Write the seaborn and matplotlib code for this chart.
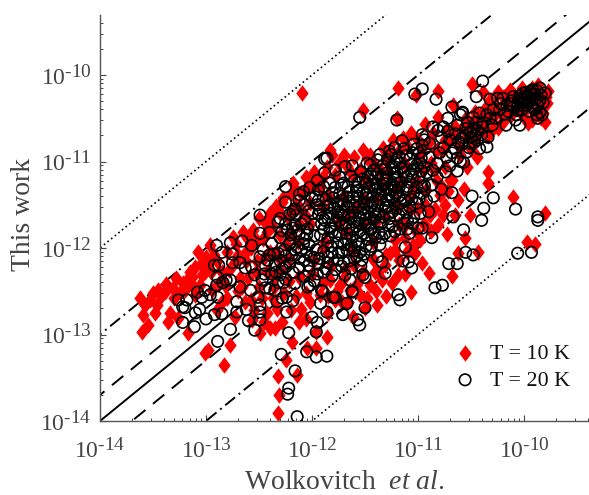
import numpy as np
import pandas as pd
import matplotlib
matplotlib.use("Agg")
import matplotlib.pyplot as plt
import matplotlib._mathtext as _mt
from matplotlib.path import Path
from matplotlib.ticker import LogLocator, NullFormatter
import seaborn as sns

_mt.SHRINK_FACTOR = 0.82

# log10 of (Wolkovitch et al., This work)
t10_left = [(-13.60,-12.97),(-13.55,-12.89),(-13.59,-12.77),(-13.62,-12.58),(-13.53,-12.60),(-13.46,-12.66),(-13.45,-12.49),
 (-13.39,-12.51),(-13.34,-12.75),(-13.36,-12.86),(-13.31,-12.46),(-13.22,-12.40),(-13.10,-12.22),(-13.08,-12.05),(-13.18,-12.37),
 (-13.13,-12.34),(-13.26,-12.81),(-13.17,-12.98),(-12.98,-13.18),(-13.01,-13.21),(-12.77,-13.12),(-12.83,-13.35),(-12.96,-11.97),
 (-12.98,-12.17),(-13.01,-12.28),(-13.04,-12.31),(-12.75,-11.87),(-12.65,-11.81),(-12.80,-12.58),(-12.73,-12.80),(-12.66,-12.45),
 (-12.58,-12.60),(-12.49,-12.98),(-12.40,-12.92),(-12.42,-12.75),(-12.56,-11.79),(-12.92,-12.08),(-12.85,-12.28),(-12.94,-12.49),
 (-12.73,-12.16),(-12.58,-12.00),(-12.68,-12.35),(-12.53,-12.28),(-12.45,-12.12),(-12.47,-12.58),(-12.57,-12.83),(-12.82,-12.43),
 (-13.10,-12.54),(-13.06,-12.43),(-12.33,-12.70),(-12.36,-12.45),(-12.30,-12.25)]
t10_low = [(-12.32,-13.91),(-12.31,-13.70),(-12.32,-13.48),(-12.14,-13.47),(-12.25,-13.29),(-12.19,-13.09),(-11.96,-13.16),
 (-12.05,-13.16),(-11.86,-13.03),(-11.96,-12.97),(-12.06,-12.82),(-11.39,-12.66),(-11.50,-12.69),(-11.61,-12.80),(-11.85,-12.75),
 (-11.34,-12.37),(-11.41,-12.28),(-10.96,-12.17),(-10.73,-11.84),(-10.56,-11.88),(-10.81,-11.73),(-11.26,-12.06),(-11.03,-12.06),
 (-11.19,-12.31),(-11.07,-12.51),(-10.90,-12.29),(-10.68,-12.32),(-10.62,-12.06),(-10.43,-12.05),(-9.97,-11.93),(-9.90,-11.95),
 (-11.64,-12.49),(-11.74,-12.43),(-11.55,-12.54),(-11.69,-12.25),(-11.83,-12.37),(-11.92,-12.54),(-11.78,-12.60),(-11.45,-12.43),
 (-11.31,-12.20),(-11.22,-11.91),(-11.12,-11.73),(-10.98,-11.91),(-10.89,-11.62),(-10.68,-11.21),(-10.57,-11.32),(-10.34,-11.25),
 (-10.34,-11.12),(-10.10,-11.41),(-9.80,-11.60),(-10.79,-11.39),(-10.65,-11.62),(-10.75,-11.50),(-10.51,-11.62),(-11.08,-11.56)]
t10_top = [(-12.09,-10.21),(-11.19,-10.15),(-10.81,-10.18),(-10.49,-10.10),(-11.02,-10.23),(-11.52,-10.40),(-11.20,-10.50),
 (-10.93,-10.57),(-10.81,-10.49),(-10.67,-10.35),(-10.39,-10.20),(-12.18,-11.25),(-12.00,-11.27),(-12.10,-11.36),(-12.27,-11.42),
 (-12.40,-11.60),(-12.30,-11.60),(-11.90,-11.18),(-12.11,-11.54),(-12.23,-11.64),(-12.02,-11.48),(-11.83,-10.87),(-11.81,-10.93),
 (-11.52,-10.87),(-11.33,-10.84),(-11.07,-10.67),(-11.24,-10.75),(-11.14,-10.73),(-11.67,-11.05),(-11.78,-11.16),(-11.55,-11.10),(-11.42,-11.02)]
t10_band = [(-10.25,-10.20),(-10.13,-10.17),(-10.02,-10.15),(-9.87,-10.11),(-9.77,-10.18),(-9.78,-10.32),(-9.80,-10.54),(-9.96,-10.55),
 (-9.82,-10.44),(-9.97,-10.37),(-10.07,-10.29),(-9.94,-10.25),(-9.88,-10.21),(-9.83,-10.29),(-10.16,-10.32),(-10.23,-10.43),
 (-10.29,-10.49),(-10.32,-10.29),(-10.20,-10.54),(-10.25,-10.61),(-10.34,-10.71),(-10.43,-10.46),(-10.49,-10.55),(-10.46,-10.43),
 (-10.54,-10.71),(-10.60,-10.83),(-10.44,-10.95),(-10.54,-11.06),(-10.76,-10.87),(-10.75,-11.06),(-10.70,-11.21),(-10.86,-10.67),
 (-10.73,-10.64),(-10.58,-10.60),(-10.82,-10.87),(-10.95,-10.83)]
t10_core = [(-12.31,-12.12),(-12.21,-11.83),(-12.12,-12.33),(-12.02,-11.72),(-11.98,-12.14),(-11.91,-11.52),(-11.88,-11.93),
 (-11.82,-12.21),(-11.71,-11.41),(-11.68,-11.82),(-11.62,-12.03),(-11.58,-11.53),(-11.48,-11.22),(-11.52,-11.72),(-11.42,-11.93),
 (-11.39,-11.42),(-11.31,-11.63),(-11.28,-11.12),(-11.21,-11.32),(-11.18,-11.72),(-11.12,-11.03),(-11.08,-11.41),(-11.01,-11.22),
 (-10.98,-10.93),(-10.92,-11.33),(-10.88,-11.02),(-12.62,-12.05),(-12.52,-11.92),(-12.42,-11.82),(-12.36,-12.32),(-12.22,-12.12),
 (-12.13,-11.93),(-12.07,-11.62),(-12.26,-12.52),(-12.06,-12.52),(-11.72,-12.62),(-11.52,-12.28),(-11.42,-12.13),(-11.22,-12.02),
 (-11.12,-11.88),(-10.92,-11.52),(-10.82,-11.23)]
t10_fill = [(-13.58,-12.66),(-13.50,-12.52),(-13.42,-12.56),(-13.48,-12.75),(-13.38,-12.42),(-13.30,-12.58),(-13.25,-12.52),(-13.28,-12.35),
 (-13.20,-12.48),(-13.15,-12.28),(-13.12,-12.44),(-13.05,-12.18),(-13.00,-12.10),(-12.95,-12.28),(-12.90,-12.15),(-12.88,-12.40),
 (-12.80,-12.05),(-12.78,-12.25),(-12.72,-11.95),(-12.70,-12.50),(-12.62,-12.15),(-12.60,-12.35),(-12.52,-12.15),(-12.50,-12.45),
 (-12.46,-11.90),(-12.42,-12.28),(-12.38,-11.75),(-12.37,-12.58),(-12.34,-12.05),(-12.30,-11.85),(-12.28,-12.85),(-12.22,-12.38),
 (-12.20,-11.60),(-12.15,-12.55),(-12.12,-11.72),(-12.10,-12.70),(-12.85,-12.62),(-12.90,-12.72),(-12.63,-12.62),(-12.55,-12.72),
 (-12.45,-12.85),(-12.35,-12.92),(-11.75,-11.02),(-11.60,-10.95),(-11.45,-10.92),(-11.30,-10.98),(-11.18,-10.88),(-11.00,-10.75),
 (-10.90,-10.78),(-10.75,-10.75),(-10.65,-10.72),(-10.60,-10.92),(-10.50,-10.85),(-10.40,-10.60),(-10.35,-10.50),(-10.28,-10.35),
 (-10.18,-10.42),(-10.10,-10.22),(-10.05,-10.40),(-10.00,-10.48),(-9.90,-10.45),(-9.85,-10.35),(-9.92,-10.15),(-10.20,-10.25),
 (-10.38,-10.40),(-10.55,-10.50),(-10.65,-10.60),(-10.72,-10.78),(-10.85,-11.10),(-10.78,-11.28),(-10.95,-11.10),(-11.05,-11.30),
 (-11.15,-11.22),(-11.00,-11.55),(-11.20,-11.52),(-11.40,-11.70),(-11.60,-12.20),(-11.70,-12.35),(-11.85,-12.55),(-11.55,-12.35),
 (-11.40,-12.50),(-11.25,-12.40),(-11.95,-11.25),(-11.85,-11.40),(-12.05,-11.30),(-12.15,-11.50),(-11.75,-11.70),(-11.90,-12.00),
 (-12.00,-12.30),(-11.65,-11.60),(-11.50,-11.45),(-11.35,-11.25),(-12.25,-11.95),(-12.40,-12.05),
 (-12.34,-11.52),(-12.28,-11.47),(-12.20,-11.38),(-12.16,-11.32),(-12.06,-11.18),(-11.98,-11.12),(-11.92,-11.30),(-11.86,-11.06),
 (-11.70,-10.92),(-11.62,-11.15),(-11.48,-10.96),(-11.36,-11.10),(-11.26,-10.90),(-11.10,-10.82),(-12.44,-11.70),(-12.50,-11.65),
 (-12.60,-11.90),(-12.70,-12.08),(-11.38,-12.28),(-11.30,-12.08),(-11.18,-12.14),(-11.10,-12.05),(-11.05,-11.96),(-11.02,-11.80),
 (-10.94,-11.72),(-10.88,-11.80),(-10.84,-11.55),(-10.76,-11.62),(-10.72,-11.34),(-10.62,-11.44),(-11.58,-12.42),(-11.66,-12.62),
 (-11.76,-12.50),(-11.90,-12.40),(-12.02,-12.62),(-11.30,-12.55),(-11.48,-12.58),(-11.12,-12.30),(-12.12,-12.86),(-12.20,-12.72),
 (-10.46,-10.75),(-10.42,-10.62),(-10.52,-10.62),(-10.30,-10.64),(-10.26,-10.42),(-10.12,-10.46),(-10.04,-10.25),(-9.92,-10.52),
 (-9.84,-10.50),(-9.79,-10.25),(-10.15,-10.24),(-10.34,-10.36)]

t20_left = [(-13.26,-12.60),(-13.22,-12.68),(-13.18,-12.60),(-13.20,-12.69),(-13.10,-12.75),(-13.06,-12.71),(-13.08,-12.51),
 (-13.01,-12.49),(-12.96,-12.54),(-13.04,-12.57),(-12.89,-12.57),(-12.90,-12.43),(-12.84,-12.40),(-12.77,-12.37),(-13.22,-12.86),
 (-13.11,-12.91),(-13.00,-12.82),(-12.92,-12.77),(-12.85,-12.76),(-12.77,-12.94),(-12.89,-13.08),(-12.71,-12.62),(-12.71,-12.74),
 (-12.62,-12.71),(-12.60,-12.84),(-12.54,-12.95),(-12.49,-12.83),(-12.49,-12.74),(-12.49,-12.66),(-12.51,-12.57),(-12.58,-12.49),
 (-12.68,-12.45),(-12.44,-12.46),(-12.40,-12.47),(-12.35,-12.49),(-12.33,-12.62),(-12.28,-12.58),(-12.24,-12.57),(-12.27,-12.40),
 (-12.32,-12.40),(-12.24,-12.74),(-12.18,-12.61),(-12.22,-12.98),(-12.29,-13.23),(-12.16,-13.42),(-12.22,-13.62),(-12.23,-13.69),
 (-12.14,-13.95),(-12.00,-12.80),(-11.96,-12.97),(-12.05,-13.20),(-11.96,-13.26),(-11.86,-13.25),(-12.04,-12.45),(-11.90,-12.50),
 (-11.92,-12.64),(-11.86,-12.74),(-11.95,-12.86)]
t20_upper = [(-12.90,-11.97),(-12.85,-12.05),(-12.92,-12.20),(-12.88,-12.20),(-12.77,-11.94),(-12.66,-11.92),(-12.75,-12.07),
 (-12.68,-12.17),(-12.75,-12.17),(-12.63,-12.23),(-12.89,-12.34),(-12.81,-12.37),(-12.57,-12.22),(-12.54,-12.31),(-12.45,-12.30),
 (-12.49,-11.83),(-12.40,-11.82),(-12.28,-11.80),(-12.18,-11.77),(-12.57,-11.97),(-12.46,-12.02),(-12.40,-12.08),(-12.32,-12.06),
 (-12.21,-11.94),(-12.14,-11.99),(-12.49,-12.10),(-12.42,-12.14),(-12.25,-11.29),(-12.25,-11.47),(-12.49,-11.62),(-11.88,-10.97),
 (-11.88,-11.13),(-11.69,-11.06),(-11.74,-11.18),(-11.94,-11.33),(-12.18,-11.58),(-12.07,-11.50),(-11.83,-11.25),(-11.97,-11.41)]
t20_lower = [(-11.53,-12.14),(-11.50,-12.34),(-11.62,-12.51),(-11.64,-12.37),(-11.69,-12.31),(-11.80,-12.57),(-11.91,-12.49),
 (-12.02,-12.43),(-10.06,-12.06),(-9.93,-12.05),(-10.48,-12.08),(-10.55,-12.05),(-10.71,-12.18),(-10.63,-12.18),(-10.84,-12.46),
 (-10.77,-12.43),(-11.19,-12.54),(-11.17,-12.60),(-11.55,-12.89),(-11.57,-12.83),(-11.50,-12.69),(-11.71,-12.77),(-11.67,-12.64),
 (-11.78,-12.57),(-11.62,-12.50),(-11.31,-12.29),(-11.52,-12.31),(-11.06,-12.23),(-11.09,-12.16),(-11.14,-12.15),(-11.12,-11.99),
 (-11.08,-11.83),(-10.87,-11.88),(-11.00,-11.77),(-10.96,-11.77),(-10.57,-11.79),(-10.40,-11.68),(-9.87,-11.68),(-11.38,-12.10),
 (-11.34,-12.16),(-10.08,-11.55),(-9.87,-11.64),(-10.29,-11.42),(-10.49,-11.40),(-10.38,-11.54),(-10.68,-11.36),(-10.63,-11.11),
 (-10.57,-11.01),(-10.67,-11.64),(-10.90,-11.58),(-11.01,-11.48)]
t20_top = [(-11.55,-10.49),(-11.20,-10.52),(-10.96,-10.16),(-11.03,-10.22),(-10.83,-10.28),(-10.39,-10.07),(-10.45,-10.25),
 (-10.68,-10.37),(-10.58,-10.44),(-10.32,-10.28),(-10.04,-10.58),(-9.87,-10.50),(-10.17,-10.58),(-11.86,-10.96)]
t20_band = [(-9.85,-10.43),(-9.82,-10.32),(-9.83,-10.46),(-9.88,-10.46),(-10.07,-10.46),(-10.06,-10.41),(-10.25,-10.27),(-10.20,-10.27),
 (-10.10,-10.25),(-10.01,-10.21),(-9.92,-10.17),(-9.85,-10.15),(-9.80,-10.21),(-9.97,-10.27),(-9.92,-10.27),(-9.85,-10.29),
 (-10.03,-10.32),(-9.97,-10.35),(-10.10,-10.37),(-10.16,-10.35),(-9.92,-10.37),(-10.23,-10.40),(-10.29,-10.40),(-10.35,-10.46),
 (-10.27,-10.50),(-10.42,-10.44),(-10.48,-10.49),(-10.53,-10.55),(-10.60,-10.46),(-10.58,-10.43),(-10.72,-10.50),(-10.63,-10.58),
 (-10.76,-10.60),(-10.81,-10.64),(-10.86,-10.60),(-10.44,-10.64),(-10.39,-10.60),(-10.30,-10.58),(-10.51,-10.66),(-10.58,-10.72),
 (-10.44,-10.75),(-10.51,-10.79),(-10.62,-10.77),(-10.34,-10.72),(-10.35,-10.83),(-10.68,-10.90),(-10.73,-10.95),(-10.54,-10.89),
 (-10.63,-10.96),(-10.76,-10.84),(-10.89,-10.79),(-10.96,-10.69),(-11.15,-10.76),(-11.22,-10.84),(-10.96,-10.81),(-11.05,-10.90),
 (-10.89,-10.95),(-10.82,-11.02),(-10.98,-11.02),(-10.92,-11.13),(-10.82,-11.18),(-11.05,-11.18),(-11.17,-11.02),(-11.29,-10.98),
 (-11.22,-11.13),(-11.10,-11.29),(-10.96,-11.29),(-10.87,-11.27),(-11.25,-11.33),
 (-10.05,-10.28),(-9.98,-10.20),(-9.95,-10.32),(-9.90,-10.22),(-9.87,-10.35),(-10.12,-10.30),(-10.15,-10.42),(-10.02,-10.40),
 (-10.18,-10.45),(-10.08,-10.52),(-9.95,-10.42),(-9.90,-10.40),(-10.22,-10.33),(-10.32,-10.50),(-10.38,-10.55),(-10.45,-10.55),
 (-10.50,-10.72),(-10.42,-10.85),(-10.47,-10.78),(-10.55,-10.62),(-10.65,-10.68),(-10.70,-10.75),(-10.78,-10.72),(-10.65,-10.85),
 (-10.60,-11.00),(-10.72,-10.65),(-10.04,-10.24),(-9.99,-10.29),(-9.94,-10.19),(-9.89,-10.28),(-9.84,-10.23),(-9.93,-10.22),
 (-10.00,-10.32),(-10.06,-10.36),(-10.13,-10.33),(-9.88,-10.18),(-9.96,-10.24),(-10.02,-10.27),(-10.48,-10.62),(-10.46,-10.70),
 (-10.40,-10.69),(-10.56,-10.70),(-10.52,-10.84),(-10.59,-10.80)]
t20_core = [(-11.78,-11.30),(-11.72,-11.45),(-11.66,-11.62),(-11.60,-11.22),(-11.57,-11.40),(-11.52,-11.55),(-11.50,-11.72),
 (-11.46,-11.30),(-11.43,-11.48),(-11.40,-11.64),(-11.37,-11.82),(-11.33,-11.28),(-11.30,-11.45),(-11.27,-11.60),(-11.24,-11.75),
 (-11.18,-11.40),(-11.15,-11.55),(-11.10,-11.68),(-11.62,-11.78),(-11.58,-11.92),(-11.55,-12.05),(-11.68,-11.90),(-11.72,-12.05),
 (-11.78,-11.72),(-11.83,-11.50),(-11.88,-11.68),(-11.92,-11.85),(-11.96,-12.02),(-12.00,-11.60),(-12.04,-11.78),(-12.08,-11.95),
 (-12.12,-12.12),(-12.15,-11.62),(-12.20,-11.85),(-12.26,-12.02),(-12.03,-12.20),(-11.85,-12.10),(-11.78,-12.25),(-11.95,-12.30),
 (-12.18,-12.28),(-12.32,-11.70),(-12.38,-11.95),(-11.45,-11.15),(-11.38,-10.98),(-11.65,-11.35),(-11.61,-11.50),(-11.55,-11.65),
 (-11.48,-11.42),(-11.42,-11.58),(-11.35,-11.72),(-11.35,-11.38),(-11.28,-11.52),(-11.22,-11.30),(-11.68,-11.72),(-11.62,-11.88),
 (-11.75,-11.58),(-11.70,-11.25),(-11.44,-11.78),(-11.48,-11.90),(-11.30,-11.20),(-11.20,-11.18),(-11.12,-11.45),(-11.80,-11.42),
 (-11.85,-11.88),(-11.90,-11.65),(-11.95,-11.50),(-12.10,-11.72),(-12.05,-12.05),(-12.25,-12.22),(-12.35,-12.20),(-12.12,-11.45),
 (-11.58,-11.30),(-11.52,-11.20),(-11.40,-11.25),(-11.55,-11.80),(-11.65,-12.15),(-11.82,-11.98),(-12.00,-11.42)]
t20_dense = [(-12.30,-11.88),(-12.30,-12.15),(-12.30,-12.31),(-12.30,-11.66),(-12.25,-11.72),(-12.25,-12.09),(-12.25,-12.36),
 (-12.21,-11.95),(-12.21,-12.18),(-12.21,-11.61),(-12.16,-11.73),(-12.16,-12.02),(-12.16,-12.41),(-12.16,-11.55),(-12.12,-11.84),
 (-12.12,-12.23),(-12.12,-11.38),(-12.07,-11.68),(-12.07,-11.89),(-12.07,-12.14),(-12.07,-12.33),(-12.03,-11.57),(-12.03,-11.96),
 (-12.03,-12.27),(-11.98,-11.73),(-11.98,-11.86),(-11.98,-12.11),(-11.98,-12.38),(-11.94,-11.61),(-11.94,-11.45),(-11.94,-12.19),
 (-11.89,-11.78),(-11.89,-12.04),(-11.89,-11.29),(-11.89,-12.28),(-11.85,-11.52),(-11.85,-11.66),(-11.85,-11.93),(-11.85,-12.17),
 (-11.81,-11.36),(-11.81,-11.81),(-11.81,-12.06),(-11.81,-12.32),(-11.76,-11.49),(-11.76,-11.64),(-11.76,-11.94),(-11.76,-12.14),
 (-11.72,-11.27),(-11.72,-11.73),(-11.72,-11.58),(-11.72,-12.21),(-11.67,-11.41),(-11.67,-11.52),(-11.67,-11.83),(-11.67,-12.02),
 (-11.63,-11.17),(-11.63,-11.66),(-11.63,-11.97),(-11.63,-12.24),(-11.58,-11.34),(-11.58,-11.47),(-11.58,-11.75),(-11.58,-12.10),
 (-11.54,-11.12),(-11.54,-11.59),(-11.54,-11.86),(-11.54,-12.21),(-11.49,-11.25),(-11.49,-11.38),(-11.49,-11.66),(-11.49,-11.98),
 (-11.45,-11.04),(-11.45,-11.51),(-11.45,-11.79),(-11.45,-12.02),(-11.40,-11.18),(-11.40,-11.33),(-11.40,-11.56),(-11.40,-11.88),
 (-11.36,-10.92),(-11.36,-11.44),(-11.36,-11.70),(-11.36,-11.96),(-11.31,-11.09),(-11.31,-11.26),(-11.31,-11.53),(-11.31,-11.83),
 (-11.27,-10.88),(-11.27,-11.38),(-11.27,-11.66),(-11.22,-11.01),(-11.22,-11.21),(-11.22,-11.49),(-11.22,-11.81),(-11.18,-10.94),
 (-11.18,-11.30),(-11.18,-11.62),(-11.13,-10.85),(-11.13,-11.12),(-11.13,-11.44),(-11.13,-11.71),(-11.08,-10.97),(-11.08,-11.24),
 (-11.08,-11.52),(-11.04,-10.80),(-11.04,-11.09),(-11.04,-11.36),(-11.04,-11.64),(-10.99,-10.90),(-10.99,-11.17),(-10.99,-11.43),
 (-10.94,-10.75),(-10.94,-11.06),(-10.94,-11.28)]
t20_dense2 = [(-11.93,-11.56),(-11.91,-11.72),(-11.87,-11.44),(-11.83,-11.60),(-11.83,-11.77),(-11.79,-11.54),(-11.78,-11.86),(-11.74,-11.37),
 (-11.74,-11.68),(-11.74,-11.84),(-11.70,-11.50),(-11.70,-11.62),(-11.70,-11.96),(-11.66,-11.29),(-11.65,-11.46),(-11.65,-11.76),
 (-11.61,-11.41),(-11.61,-11.58),(-11.60,-11.70),(-11.60,-12.03),(-11.56,-11.24),(-11.56,-11.53),(-11.56,-11.71),(-11.56,-11.95),
 (-11.52,-11.36),(-11.51,-11.48),(-11.51,-11.62),(-11.51,-11.83),(-11.47,-11.18),(-11.47,-11.35),(-11.47,-11.58),(-11.47,-11.74),
 (-11.43,-11.27),(-11.43,-11.41),(-11.42,-11.67),(-11.42,-11.83),(-11.38,-11.14),(-11.38,-11.30),(-11.38,-11.51),(-11.37,-11.61),
 (-11.33,-11.05),(-11.33,-11.19),(-11.33,-11.34),(-11.33,-11.64),(-11.29,-11.13),(-11.29,-11.31),(-11.28,-11.44),(-11.28,-11.74),
 (-11.24,-11.07),(-11.24,-11.27),(-11.24,-11.41),(-11.24,-11.58),(-11.20,-10.98),(-11.20,-11.12),(-11.20,-11.36),(-11.20,-11.54),
 (-11.16,-11.08),(-11.16,-11.24),(-11.16,-11.48),(-11.11,-10.93),(-11.11,-11.18),(-11.11,-11.33),(-11.11,-11.59),(-11.06,-11.03),
 (-11.06,-11.14),(-11.06,-11.44),(-11.01,-10.85),(-11.01,-11.04),(-11.01,-11.29),(-10.97,-10.96),(-10.97,-11.11),(-10.97,-11.37),
 (-12.44,-12.20),(-12.47,-12.37),(-12.36,-12.07),(-12.38,-12.30),(-12.34,-12.28),(-12.28,-12.24),(-12.23,-11.79),(-12.19,-12.08),
 (-12.10,-12.03),(-12.14,-11.80),(-12.05,-11.85),(-12.01,-12.10),(-11.93,-12.12),(-11.87,-12.24),(-11.75,-12.05),(-11.70,-12.16),
 (-11.60,-12.12),(-11.51,-12.07),(-11.44,-11.98),(-11.34,-11.88),(-11.26,-11.86),(-11.17,-11.78),(-11.10,-11.78),(-11.05,-11.72),
 (-10.98,-11.60),(-10.92,-11.45),(-10.85,-11.40),(-10.78,-11.32),(-10.74,-11.12),(-10.70,-11.05),(-10.80,-10.90),(-10.86,-11.10),
 (-12.08,-11.35),(-12.02,-11.30),(-11.95,-11.22),(-11.78,-11.10),(-11.62,-11.05),(-11.48,-11.02),(-11.42,-11.10),(-11.25,-10.92)]

ref_factors = [1, 2, 0.5, 10, 0.1, 100, 0.01]
ref_styles = ["solid", "dashed", "dashed", "dashdot", "dashdot", "dotted", "dotted"]
x_ticks = [-14, -13, -12, -11, -10]
y_ticks = [-14, -13, -12, -11, -10]
xlim = (1e-14, 10 ** -9.387)
ylim = (1e-14, 10 ** -9.306)
legend_labels = ["T = 10 K", "T = 20 K"]

sns.set_theme(style="ticks", rc={
    "font.family": ["Liberation Serif", "DejaVu Serif"],
    "mathtext.fontset": "custom",
    "mathtext.rm": "Liberation Serif",
    "mathtext.it": "Liberation Serif:italic",
    "mathtext.bf": "Liberation Serif:bold",
    "axes.edgecolor": "#555555",
    "axes.linewidth": 1.0,
    "xtick.direction": "in", "ytick.direction": "in",
    "xtick.color": "#444444", "ytick.color": "#444444",
    "text.color": "#111111",
})

def frame(groups):
    pts = np.array([p for g in groups for p in g])
    return pd.DataFrame({"x": 10.0 ** pts[:, 0], "y": 10.0 ** pts[:, 1]})

df10 = frame([t10_left, t10_low, t10_top, t10_band, t10_core, t10_fill])
df20 = frame([t20_left, t20_upper, t20_lower, t20_top, t20_band, t20_core, t20_dense, t20_dense2])

fig = plt.figure(figsize=(5.89, 4.95), dpi=100)
ax = fig.add_axes([100 / 589, (495 - 421) / 495, 489 / 589, 406 / 495])

dash = {"dashed": (0, (7.5, 5)), "dashdot": (0, (6.5, 2.4, 1.0, 2.4)), "dotted": (0, (1.0, 1.8))}
line_x = np.array([1e-15, 1e-9])
for f, st in zip(ref_factors, ref_styles):
    ls = "-" if st == "solid" else dash[st]
    ax.plot(line_x, line_x * f, color="black", lw=1.2 if st == "dotted" else 1.4, ls=ls, zorder=1)

diamond = Path([(-0.75, 0), (0, 1), (0.75, 0), (0, -1), (-0.75, 0)], closed=True)
sns.scatterplot(data=df10, x="x", y="y", ax=ax, marker=diamond, s=140, color="#fe0000", linewidth=0, label=legend_labels[0], zorder=2)
sns.scatterplot(data=df20, x="x", y="y", ax=ax, marker="o", s=68, facecolors="none", edgecolor="black", linewidth=1.2, label=legend_labels[1], zorder=3)

ax.set_xscale("log"); ax.set_yscale("log")
ax.set_xlim(xlim); ax.set_ylim(ylim)
ax.set_xticks([10.0 ** e for e in x_ticks], [f"$\\mathregular{{10^{{\\text{{-}}{abs(e)}}}}}$" for e in x_ticks])
ax.set_yticks([10.0 ** e for e in y_ticks], [f"$\\mathregular{{10^{{\\text{{-}}{abs(e)}}}}}$" for e in y_ticks])
for a in (ax.xaxis, ax.yaxis):
    a.set_minor_locator(LogLocator(base=10, subs=np.arange(2, 10), numticks=20))
    a.set_minor_formatter(NullFormatter())
ax.tick_params(which="major", length=4, width=0.8, labelsize=17, labelcolor="#444444")
ax.tick_params(which="minor", length=2.2, width=0.7)
ax.tick_params(axis="x", which="major", pad=12)
ax.tick_params(axis="y", which="major", pad=6)
sns.despine(ax=ax)
ax.set_xlabel("Wolkovitch  $\\mathit{et\\ al.}$", fontsize=20, color="#444444", labelpad=5)
ax.set_ylabel("This work", fontsize=20, color="#444444", labelpad=3, y=0.51)

leg = ax.legend(loc="lower right", bbox_to_anchor=(0.962, 0.075), frameon=False, fontsize=15.8,
                handletextpad=0.35, labelspacing=0.3, handlelength=1.6, borderpad=0, borderaxespad=0)
fig.savefig("out.png", dpi=100)
